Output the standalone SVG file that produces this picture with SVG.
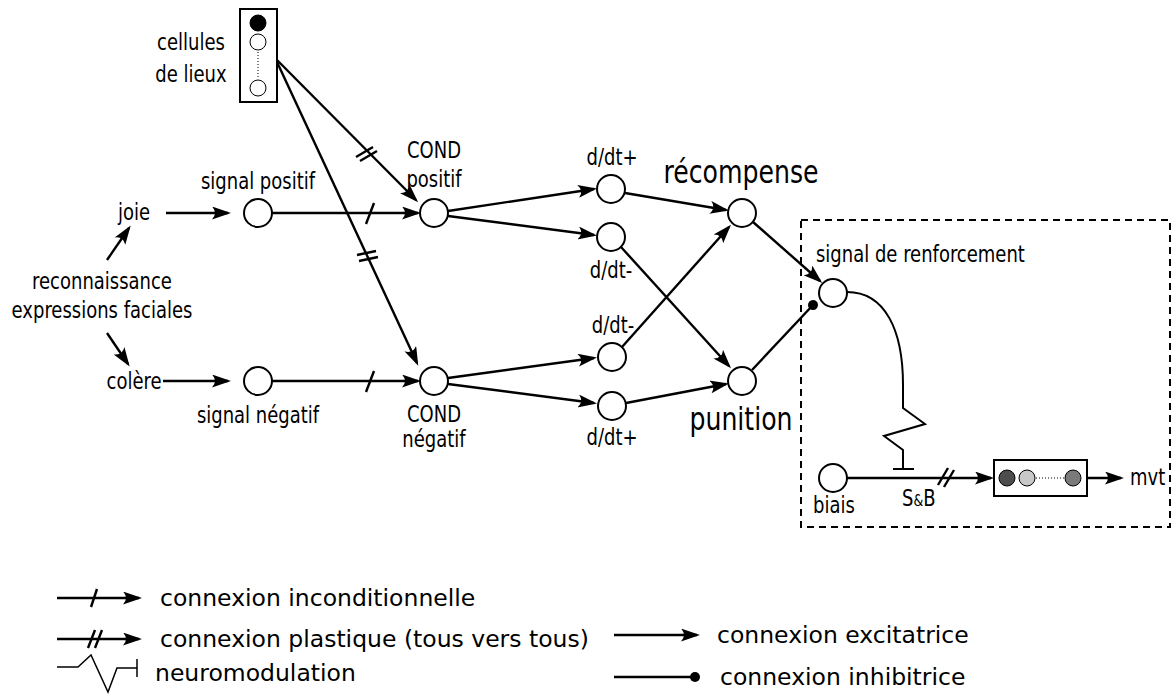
<svg xmlns="http://www.w3.org/2000/svg" width="1174" height="695" viewBox="0 0 1174 695">
<defs>
<style>
.n{fill:#fff;stroke:#000;stroke-width:2}
.c{fill:none;stroke:#000;stroke-width:2.4}
.t{stroke:#000;stroke-width:2.4}
.l{font-family:"DejaVu Sans Condensed","DejaVu Sans",sans-serif;font-size:20px;fill:#000}
.big{font-family:"DejaVu Sans Condensed","DejaVu Sans",sans-serif;font-size:28px;fill:#000}
.lg{font-family:"DejaVu Sans",sans-serif;font-size:23.5px;fill:#000}
.m{text-anchor:middle}
</style>
<marker id="arr" markerUnits="userSpaceOnUse" markerWidth="19" markerHeight="13" refX="16" refY="6.5" orient="auto" viewBox="0 0 19 13">
<path d="M19,6.5 L0,0 Q6,6.5 0,13 Z" fill="#000"/>
</marker>
<marker id="dot" markerUnits="userSpaceOnUse" markerWidth="12" markerHeight="12" refX="6" refY="6" orient="auto" viewBox="0 0 12 12">
<circle cx="6" cy="6" r="5" fill="#000"/>
</marker>
</defs>

<g id="connectors">
<path class="c" d="M107,260 L129,228" marker-end="url(#arr)"/>
<path class="c" d="M107,333 L128,364" marker-end="url(#arr)"/>
<path class="c" d="M166,213 L228,213" marker-end="url(#arr)"/>
<path class="c" d="M163,381 L228,381" marker-end="url(#arr)"/>
<path class="c" d="M272,213 L418,213" marker-end="url(#arr)"/>
<path class="t" d="M366,224 L374,203"/>
<path class="c" d="M272,381 L418,381" marker-end="url(#arr)"/>
<path class="t" d="M366,392 L374,371"/>
<path class="c" d="M277,60 L416,200" marker-end="url(#arr)"/>
<path class="t" d="M356,157 L373,147 M360,161 L377,151"/>
<path class="c" d="M277,62 L417,363" marker-end="url(#arr)"/>
<path class="t" d="M357,255 L376,251 M359,261 L378,257"/>
<path class="c" d="M448,211 L594,189" marker-end="url(#arr)"/>
<path class="c" d="M448,216 L594,235" marker-end="url(#arr)"/>
<path class="c" d="M448,378 L594,358" marker-end="url(#arr)"/>
<path class="c" d="M448,384 L594,403" marker-end="url(#arr)"/>
<path class="c" d="M625,193 L726,210" marker-end="url(#arr)"/>
<path class="c" d="M621,247 L729,366" marker-end="url(#arr)"/>
<path class="c" d="M622,347 L729,227" marker-end="url(#arr)"/>
<path class="c" d="M626,403 L726,384" marker-end="url(#arr)"/>
<path class="c" d="M753,222 L820,281" marker-end="url(#arr)"/>
<path class="c" d="M752,370 L813,305" marker-end="url(#dot)"/>
<path class="c" d="M847,292 C885,292 903,330 903,385 L903,408 L925,424 L884,436 L903,450 L903,469 M893,469 L914,469" style="stroke-width:2"/>
<path class="c" d="M847,478 L991,478" marker-end="url(#arr)"/>
<path class="t" d="M938,485 L948,468 M944,487 L954,470"/>
<path class="c" d="M1087,478 L1121,478" marker-end="url(#arr)"/>
<rect x="801" y="220" width="369" height="307" fill="none" stroke="#000" stroke-width="2" stroke-dasharray="7,5"/>
</g>

<g id="cellules">
<rect x="240" y="9" width="37" height="93" fill="#fff" stroke="#000" stroke-width="2"/>
<circle cx="258" cy="23" r="8" fill="#000" stroke="#000"/>
<circle cx="258" cy="42" r="8" fill="#fff" stroke="#000"/>
<line x1="258" y1="52" x2="258" y2="78" stroke="#000" stroke-dasharray="1,2"/>
<circle cx="258" cy="88" r="8" fill="#fff" stroke="#000"/>
<text class="l m" x="191" y="50" transform="matrix(1 0 0 1.15 0 -7.5)">cellules</text>
<text class="l m" x="191" y="82" transform="matrix(1 0 0 1.15 0 -12.3)">de lieux</text>
</g>

<g id="reconnaissance">
<text class="l m" x="102" y="289" transform="matrix(1 0 0 1.15 0 -43.35)">reconnaissance</text>
<text class="l m" x="102" y="318" transform="matrix(1 0 0 1.15 0 -47.7)">expressions faciales</text>
</g>
<g id="joie"><text class="l m" x="134" y="220" transform="matrix(1 0 0 1.15 0 -33)">joie</text></g>
<g id="colere"><text class="l m" x="134" y="389" transform="matrix(1 0 0 1.15 0 -58.35)">colère</text></g>

<g id="signal-positif">
<circle class="n" cx="258" cy="213" r="14"/>
<text class="l m" x="258" y="189" transform="matrix(1 0 0 1.15 0 -28.35)">signal positif</text>
</g>
<g id="signal-negatif">
<circle class="n" cx="258" cy="381" r="14"/>
<text class="l m" x="258" y="423" transform="matrix(1 0 0 1.15 0 -63.45)">signal négatif</text>
</g>
<g id="cond-positif">
<circle class="n" cx="434" cy="213" r="14"/>
<text class="l m" x="434" y="158" transform="matrix(1 0 0 1.15 0 -23.7)">COND</text>
<text class="l m" x="434" y="187" transform="matrix(1 0 0 1.15 0 -28.05)">positif</text>
</g>
<g id="cond-negatif">
<circle class="n" cx="434" cy="381" r="14"/>
<text class="l m" x="434" y="422" transform="matrix(1 0 0 1.15 0 -63.3)">COND</text>
<text class="l m" x="434" y="447" transform="matrix(1 0 0 1.15 0 -67.05)">négatif</text>
</g>
<g id="ddt-plus-1">
<circle class="n" cx="611" cy="189" r="14"/>
<text class="l m" x="612" y="165" transform="matrix(1 0 0 1.15 0 -24.75)">d/dt+</text>
</g>
<g id="ddt-moins-1">
<circle class="n" cx="611" cy="237" r="14"/>
<text class="l m" x="611" y="278" transform="matrix(1 0 0 1.15 0 -41.7)">d/dt-</text>
</g>
<g id="ddt-moins-2">
<circle class="n" cx="612" cy="357" r="14"/>
<text class="l m" x="613" y="333" transform="matrix(1 0 0 1.15 0 -49.95)">d/dt-</text>
</g>
<g id="ddt-plus-2">
<circle class="n" cx="612" cy="406" r="14"/>
<text class="l m" x="612" y="445" transform="matrix(1 0 0 1.15 0 -66.75)">d/dt+</text>
</g>
<g id="recompense">
<circle class="n" cx="742" cy="213" r="14"/>
<text class="big m" x="741" y="183" transform="matrix(1 0 0 1.15 0 -27.45)">récompense</text>
</g>
<g id="punition">
<circle class="n" cx="742" cy="381" r="14"/>
<text class="big m" x="741" y="430" transform="matrix(1 0 0 1.15 0 -64.5)">punition</text>
</g>
<g id="signal-renforcement">
<circle class="n" cx="833" cy="293" r="14"/>
<text class="l" x="816" y="262" transform="matrix(1 0 0 1.15 0 -39.3)">signal de renforcement</text>
</g>
<g id="biais">
<circle class="n" cx="833" cy="478" r="14"/>
<text class="l" x="813" y="513" transform="matrix(1 0 0 1.15 0 -76.95)">biais</text>
<text class="l" x="902" y="506" transform="matrix(1 0 0 1.15 0 -75.9)">S<tspan font-size="14">&amp;</tspan>B</text>
</g>
<g id="sortie">
<rect x="994" y="460" width="93" height="36" fill="#fff" stroke="#000" stroke-width="2"/>
<circle cx="1007" cy="478" r="8" fill="#4d4d4d" stroke="#000"/>
<circle cx="1027" cy="478" r="8" fill="#c8c8c8" stroke="#000"/>
<line x1="1036" y1="478" x2="1064" y2="478" stroke="#000" stroke-dasharray="1,2"/>
<circle cx="1073" cy="478" r="8" fill="#7a7a7a" stroke="#000"/>
<text class="l" x="1130" y="485" transform="matrix(1 0 0 1.15 0 -72.75)">mvt</text>
</g>

<g id="legende">
<path class="c" d="M57,598 L139,598" marker-end="url(#arr)"/>
<path class="t" d="M91,607 L97,589"/>
<text class="lg" x="160" y="606">connexion inconditionnelle</text>
<path class="c" d="M57,639 L139,639" marker-end="url(#arr)"/>
<path class="t" d="M88,648 L95,630 M95,648 L102,630"/>
<text class="lg" x="160" y="647">connexion plastique (tous vers tous)</text>
<path class="c" d="M57,667 L78,667 L91,655 L108,692 L117,668 L137,668 M137,659 L137,677" style="stroke-width:1.5"/>
<text class="lg" x="155" y="681">neuromodulation</text>
<path class="c" d="M614,635 L697,635" marker-end="url(#arr)"/>
<text class="lg" x="717" y="643">connexion excitatrice</text>
<path class="c" d="M614,677 L695,677" marker-end="url(#dot)"/>
<text class="lg" x="720" y="685">connexion inhibitrice</text>
</g>
</svg>
